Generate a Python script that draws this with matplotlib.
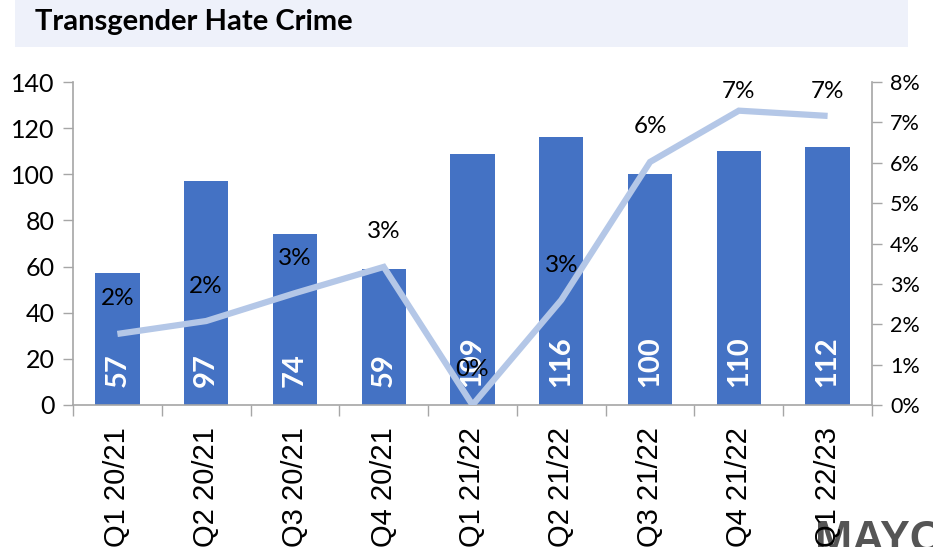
import matplotlib
matplotlib.use("Agg")
import matplotlib.pyplot as plt
from matplotlib.patches import Rectangle
from matplotlib.transforms import offset_copy
import numpy as np

quarters = ["Q1 20/21", "Q2 20/21", "Q3 20/21", "Q4 20/21", "Q1 21/22",
            "Q2 21/22", "Q3 21/22", "Q4 21/22", "Q1 22/23"]
offences = [57, 97, 74, 59, 109, 116, 100, 110, 112]
share_pct = [1.76, 2.08, 2.77, 3.42, 0.0, 2.60, 6.02, 7.29, 7.16]
left_ticks = [0, 20, 40, 60, 80, 100, 120, 140]
right_ticks = [0, 1, 2, 3, 4, 5, 6, 7, 8]

BAR = "#4472C4"
LINE = "#B4C7E7"
AXIS = "#A6A6A6"
NUM_FONT = "Lato"

fig = plt.figure(figsize=(9.33, 5.47), dpi=100)

# header band with title
fig.patches.append(Rectangle((15 / 933, 1 - 47 / 547), 893 / 933, 47 / 547,
                             transform=fig.transFigure, facecolor="#EEF1FA",
                             edgecolor="none", zorder=0))
fig.text(35 / 933, 1 - 22 / 547, "Transgender Hate Crime", fontsize=21,
         fontweight="bold", family=NUM_FONT, va="center", ha="left")

ax = fig.add_axes([73 / 933, 142 / 547, 799 / 933, 323 / 547])
ax.patch.set_alpha(0)
x = np.arange(len(quarters))
ax.bar(x, offences, width=0.5, color=BAR, zorder=2)
ax.set_xlim(-0.5, len(quarters) - 0.5)
ax.set_ylim(0, 140)
ax.set_yticks(left_ticks)
ax.set_yticklabels([str(v) for v in left_ticks], fontsize=18, family=NUM_FONT)

# category boundaries carry the tick marks, centres carry the labels
ax.set_xticks(np.arange(-0.5, len(quarters), 1.0))
ax.set_xticklabels([])
ax.set_xticks(x, minor=True)
ax.set_xticklabels(quarters, minor=True, rotation=90, fontsize=21,
                   family="Liberation Sans", va="top")
ax.tick_params(axis="x", which="major", length=8, width=1, color=AXIS, direction="out")
ax.tick_params(axis="x", which="minor", length=0, pad=16)
ax.tick_params(axis="y", length=7, width=1, color=AXIS, pad=6)

for side in ("top", "right"):
    ax.spines[side].set_visible(False)
for side in ("left", "bottom"):
    ax.spines[side].set_color(AXIS)
    ax.spines[side].set_linewidth(1.2)

for xi, v in zip(x, offences):
    ax.annotate(str(v), xy=(xi, 0), xytext=(0, 13), textcoords="offset points",
                ha="center", va="bottom", rotation=90, color="white",
                fontsize=21, fontweight="bold", family=NUM_FONT, zorder=3)

ax2 = ax.twinx()
ax2.set_ylim(0, 8)
ax2.plot(x, share_pct, color=LINE, linewidth=4.5, solid_joinstyle="miter",
         solid_capstyle="butt", zorder=3)
ax2.set_yticks(right_ticks)
ax2.set_yticklabels([f"{v}%" for v in right_ticks], fontsize=15.5, family=NUM_FONT)
ax2.tick_params(axis="y", length=7, width=1, color=AXIS, pad=6)
for side in ("top", "left", "bottom"):
    ax2.spines[side].set_visible(False)
ax2.spines["right"].set_color(AXIS)
ax2.spines["right"].set_linewidth(1.2)

# percentage labels sit above each point but stay inside the plot area
label_gap = 35 / 323 * 8
label_ceiling = 8 - 10 / 323 * 8
for xi, v in zip(x, share_pct):
    ax2.annotate(f"{round(v):.0f}%", xy=(xi, v),
                 xytext=(xi, min(v + label_gap, label_ceiling)),
                 textcoords="data", ha="center", va="center",
                 fontsize=17.5, family=NUM_FONT, color="black", zorder=4)

# logo lettering in the bottom-right corner, running off the edge
logo_tf = offset_copy(fig.transFigure, fig=fig, x=0, y=-5, units="dots")
fig.text(815 / 933, 0, "MAYOR", fontsize=32, fontweight="bold",
         family="Liberation Sans", color="#555555", ha="left", va="baseline",
         transform=logo_tf, zorder=-1)

fig.savefig("out.png", dpi=100)
